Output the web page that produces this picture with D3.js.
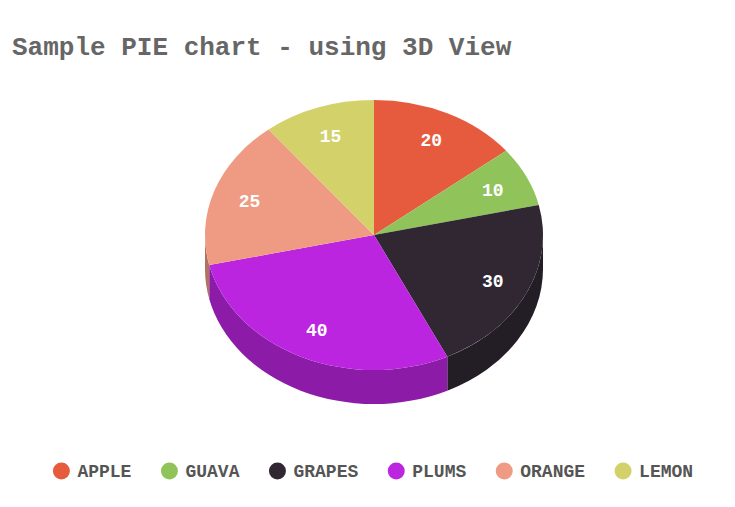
<!DOCTYPE html>
<html>
<head>
<meta charset="utf-8">
<script src="https://cdnjs.cloudflare.com/ajax/libs/d3/7.8.5/d3.min.js"></script>
<style>
  body { margin: 0; background: #fff; }
  text { font-family: "Liberation Mono", "Courier New", monospace; font-weight: bold; }
</style>
</head>
<body>
<div id="chart"></div>
<script>
// data
var fruits = ["APPLE", "GUAVA", "GRAPES", "PLUMS", "ORANGE", "LEMON"];
var amounts = [20, 10, 30, 40, 25, 15];
var topColors = ["#e65b3e", "#90c45b", "#302733", "#bc25e0", "#ef9b83", "#d3d16a"];
var sideColors = ["#ad4430", "#6c9344", "#231d26", "#8c1ba8", "#b07361", "#9e9c4f"];

var svgWidth = 735;
var svgHeight = 507;

// pie geometry (ellipse of the tilted top face)
var cx = 374, cy = 235;
var rx = 169, ry = 135;
var depth = 34;

var svg = d3.select("#chart")
  .append("svg")
  .attr("width", svgWidth)
  .attr("height", svgHeight);

// title
svg.append("text")
  .attr("x", 12)
  .attr("y", 55)
  .attr("fill", "#666")
  .style("font-size", "26px")
  .text("Sample PIE chart - using 3D View");

var color = d3.scaleOrdinal().domain(fruits).range(topColors);
var sideColor = d3.scaleOrdinal().domain(fruits).range(sideColors);

var rows = fruits.map((f, i) => ({ name: f, value: amounts[i] }));

var pie = d3.pie()
  .sort(null)
  .value(d => d.value)
  .startAngle(0)
  .endAngle(2 * Math.PI);

var arcs = pie(rows);

function px(a, k) { return cx + (k || 1) * rx * Math.sin(a); }
function py(a, k) { return cy - (k || 1) * ry * Math.cos(a); }

function topPath(d) {
  var large = (d.endAngle - d.startAngle) > Math.PI ? 1 : 0;
  return "M" + cx + "," + cy +
    "L" + px(d.startAngle) + "," + py(d.startAngle) +
    "A" + rx + "," + ry + " 0 " + large + " 1 " + px(d.endAngle) + "," + py(d.endAngle) + "Z";
}

// outer wall, only the part facing the viewer (angles between 90 and 270 deg)
function sidePath(d) {
  var s = Math.max(d.startAngle, Math.PI / 2);
  var e = Math.min(d.endAngle, 3 * Math.PI / 2);
  if (e <= s) return null;
  var large = (e - s) > Math.PI ? 1 : 0;
  return "M" + px(s) + "," + py(s) +
    "A" + rx + "," + ry + " 0 " + large + " 1 " + px(e) + "," + py(e) +
    "L" + px(e) + "," + (py(e) + depth) +
    "A" + rx + "," + ry + " 0 " + large + " 0 " + px(s) + "," + (py(s) + depth) + "Z";
}

var pieGroup = svg.append("g");

pieGroup.selectAll(".side")
  .data(arcs.filter(d => sidePath(d)))
  .enter()
  .append("path")
  .attr("class", "side")
  .attr("d", sidePath)
  .attr("fill", d => sideColor(d.data.name));

pieGroup.selectAll(".top")
  .data(arcs)
  .enter()
  .append("path")
  .attr("class", "top")
  .attr("d", topPath)
  .attr("fill", d => color(d.data.name));

// value labels inside the slices
pieGroup.selectAll(".label")
  .data(arcs)
  .enter()
  .append("text")
  .attr("class", "label")
  .attr("x", d => px((d.startAngle + d.endAngle) / 2, 0.78))
  .attr("y", d => py((d.startAngle + d.endAngle) / 2, 0.78))
  .attr("text-anchor", "middle")
  .attr("dy", "0.35em")
  .attr("fill", "#fff")
  .style("font-size", "18px")
  .text(d => d.data.value);

// legend
var legend = svg.append("g");
var gap = 38;
var x = 0;
fruits.forEach(function(f) {
  var item = legend.append("g").attr("transform", `translate(${x}, 0)`);
  item.append("circle")
    .attr("r", 8.5)
    .attr("fill", color(f));
  var t = item.append("text")
    .attr("x", 16)
    .attr("dy", "0.35em")
    .attr("fill", "#555")
    .style("font-size", "18px")
    .text(f);
  x += 16 + t.node().getComputedTextLength() + gap;
});
var legendWidth = x - gap + 8.5;
legend.attr("transform", `translate(${373 - legendWidth / 2 + 8.5}, 471)`);
</script>
</body>
</html>
